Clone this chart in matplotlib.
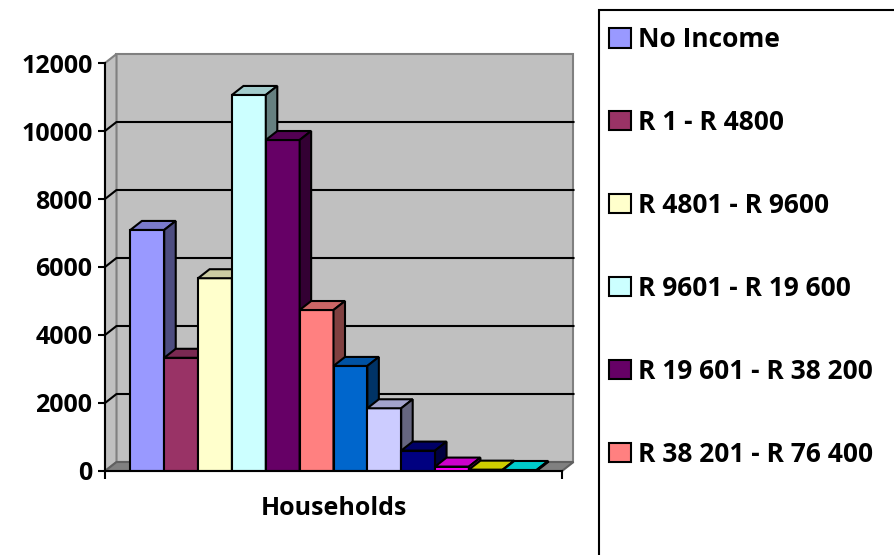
import numpy as np
import matplotlib
matplotlib.use("Agg")
import matplotlib.pyplot as plt
from matplotlib.patches import Polygon, Rectangle
from matplotlib.colors import to_rgb

income_groups = [
    "No Income",
    "R 1 - R 4800",
    "R 4801 - R 9600",
    "R 9601 - R 19 600",
    "R 19 601 - R 38 200",
    "R 38 201 - R 76 400",
    "R 76 401 - R 153 800",
    "R 153 801 - R 307 600",
    "R 307 601 - R 614 400",
    "R 614 401 - R 1 228 800",
    "R 1 228 801 - R 2 457 600",
    "R 2 457 601 or more",
]
households = [7090, 3330, 5670, 11060, 9735, 4735, 3090, 1845, 600, 130, 40, 30]
colours = ["#9999FF", "#993366", "#FFFFCC", "#CCFFFF", "#660066", "#FF8080",
           "#0066CC", "#CCCCFF", "#000080", "#FF00FF", "#FFFF00", "#00FFFF"]
y_ticks = [0, 2000, 4000, 6000, 8000, 10000, 12000]
category = "Households"
legend_rows = 6  # only the entries that fit in the legend box

plt.rcParams["font.family"] = ["Open Sans", "DejaVu Sans"]
plt.rcParams["font.weight"] = "bold"


def shade(c, f):
    return tuple(np.array(to_rgb(c)) * f)


fig = plt.figure(figsize=(8.94, 5.55), dpi=100)
W, H = 894, 555
ax = fig.add_axes([105 / W, 84 / H, 457 / W, 408 / H])
x0, x1 = -0.75, len(households) + 0.75
ax.set_xlim(x0, x1)
ax.set_ylim(y_ticks[0], y_ticks[-1])

# depth of the box (pixels) expressed in data units
ox, oy = ax.transData.transform((0, 0))
dx, dy = ax.transData.inverted().transform((ox + 11.5, oy + 9))

top = y_ticks[-1]
wall = "#C0C0C0"
ax.add_patch(Rectangle((x0 + dx, dy), x1 - x0, top, fc=wall, ec="#808080",
                       lw=1.5, clip_on=False, zorder=0.1))
ax.add_patch(Polygon([(x0, 0), (x0 + dx, dy), (x0 + dx, top + dy), (x0, top)],
                     fc=wall, ec="#808080", lw=1.5, clip_on=False, zorder=0.1))
ax.add_patch(Polygon([(x0, 0), (x1, 0), (x1 + dx, dy), (x0 + dx, dy)],
                     fc="#808080", ec="#606060", lw=1.5, clip_on=False, zorder=0.2))
for t in y_ticks[1:-1]:
    ax.plot([x0, x0 + dx, x1 + dx], [t, t + dy, t + dy], color="black", lw=1.5,
            clip_on=False, zorder=0.3)

# 3-D columns: front face, top and right side
for i, (name, v, c) in enumerate(zip(income_groups, households, colours)):
    z = 2 + i * 0.1
    ax.bar(i, v, width=1, align="edge", color=c, edgecolor="black", lw=1.5,
           label=name, zorder=z)
    ax.add_patch(Polygon([(i, v), (i + 1, v), (i + 1 + dx, v + dy), (i + dx, v + dy)],
                         fc=shade(c, 0.8), ec="black", lw=1.5, zorder=z + 0.01,
                         clip_on=False))
    ax.add_patch(Polygon([(i + 1, 0), (i + 1, v), (i + 1 + dx, v + dy), (i + 1 + dx, dy)],
                         fc=shade(c, 0.5), ec="black", lw=1.5, zorder=z + 0.02,
                         clip_on=False))

for s in ["top", "right"]:
    ax.spines[s].set_visible(False)
for s in ["left", "bottom"]:
    ax.spines[s].set_linewidth(1.5)
    ax.spines[s].set_zorder(5)

ax.set_yticks(y_ticks)
ax.tick_params(axis="y", direction="out", length=5, width=1.5, pad=4, labelsize=18)
ax.set_xticks([x0, x1], ["", ""])
ax.tick_params(axis="x", which="major", direction="out", length=6, width=1.5)
ax.set_xticks([(x0 + x1) / 2], [category], minor=True)
ax.tick_params(axis="x", which="minor", length=0, pad=18, labelsize=18)

# legend box runs off the right and bottom edges
fig.add_artist(Rectangle((599 / W, -0.2), 1, 1.2 - 9.5 / H, transform=fig.transFigure,
                         fill=False, ec="black", lw=1.5))
handles, labels = ax.get_legend_handles_labels()
fig.legend(handles[:legend_rows], labels[:legend_rows], loc="upper left",
           bbox_to_anchor=(609 / W, 1 - 26 / H), bbox_transform=fig.transFigure,
           borderaxespad=0, borderpad=0, frameon=False,
           fontsize=19, handlelength=0.83, handleheight=0.76,
           handletextpad=0.26, labelspacing=2.12)

fig.savefig("out.png", dpi=100)
